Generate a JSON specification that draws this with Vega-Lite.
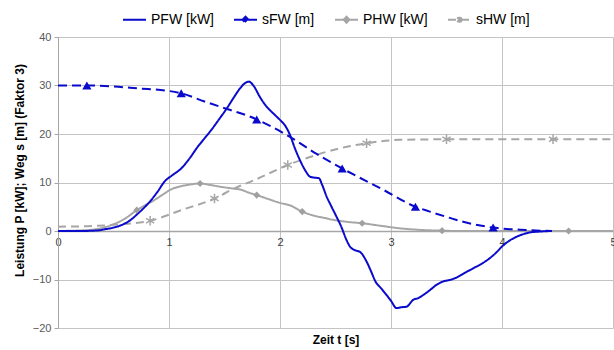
{
  "$schema": "https://vega.github.io/schema/vega-lite/v6.json",
  "width": 555,
  "height": 291,
  "autosize": {"type": "none"},
  "padding": {"left": 58, "top": 37, "right": 1, "bottom": 22},
  "background": "white",
  "config": {"font": "Liberation Sans", "view": {"stroke": null}},
  "datasets": {
    "lines": [
      {"series": "PHW [kW]", "t": 0, "v": 0}, {"series": "PHW [kW]", "t": 0.27, "v": 0.2}, {"series": "PHW [kW]", "t": 0.48, "v": 1.2}, {"series": "PHW [kW]", "t": 0.6, "v": 2.5}, {"series": "PHW [kW]", "t": 0.71, "v": 4.3}, {"series": "PHW [kW]", "t": 0.8, "v": 5.5}, {"series": "PHW [kW]", "t": 0.87, "v": 6.4}, {"series": "PHW [kW]", "t": 0.95, "v": 7.6}, {"series": "PHW [kW]", "t": 1.02, "v": 8.6}, {"series": "PHW [kW]", "t": 1.1, "v": 9.2}, {"series": "PHW [kW]", "t": 1.17, "v": 9.5}, {"series": "PHW [kW]", "t": 1.28, "v": 9.8}, {"series": "PHW [kW]", "t": 1.37, "v": 9.5}, {"series": "PHW [kW]", "t": 1.47, "v": 9.1}, {"series": "PHW [kW]", "t": 1.56, "v": 8.8}, {"series": "PHW [kW]", "t": 1.65, "v": 8.5}, {"series": "PHW [kW]", "t": 1.72, "v": 7.9}, {"series": "PHW [kW]", "t": 1.79, "v": 7.4}, {"series": "PHW [kW]", "t": 1.88, "v": 6.7}, {"series": "PHW [kW]", "t": 2.0, "v": 5.8}, {"series": "PHW [kW]", "t": 2.1, "v": 5.2}, {"series": "PHW [kW]", "t": 2.2, "v": 4.0}, {"series": "PHW [kW]", "t": 2.3, "v": 3.2}, {"series": "PHW [kW]", "t": 2.4, "v": 2.7}, {"series": "PHW [kW]", "t": 2.48, "v": 2.3}, {"series": "PHW [kW]", "t": 2.6, "v": 1.9}, {"series": "PHW [kW]", "t": 2.74, "v": 1.6}, {"series": "PHW [kW]", "t": 2.9, "v": 1.1}, {"series": "PHW [kW]", "t": 3.08, "v": 0.55}, {"series": "PHW [kW]", "t": 3.25, "v": 0.25}, {"series": "PHW [kW]", "t": 3.46, "v": 0.07}, {"series": "PHW [kW]", "t": 3.6, "v": 0}, {"series": "PHW [kW]", "t": 5, "v": 0},
      {"series": "sHW [m]", "t": 0, "v": 0.9}, {"series": "sHW [m]", "t": 0.27, "v": 1.0}, {"series": "sHW [m]", "t": 0.57, "v": 1.4}, {"series": "sHW [m]", "t": 0.83, "v": 2.1}, {"series": "sHW [m]", "t": 1.11, "v": 4.3}, {"series": "sHW [m]", "t": 1.41, "v": 6.7}, {"series": "sHW [m]", "t": 1.59, "v": 8.8}, {"series": "sHW [m]", "t": 1.77, "v": 10.5}, {"series": "sHW [m]", "t": 2.07, "v": 13.6}, {"series": "sHW [m]", "t": 2.33, "v": 15.7}, {"series": "sHW [m]", "t": 2.55, "v": 17.1}, {"series": "sHW [m]", "t": 2.78, "v": 18.1}, {"series": "sHW [m]", "t": 3.08, "v": 18.8}, {"series": "sHW [m]", "t": 3.5, "v": 18.9}, {"series": "sHW [m]", "t": 4.46, "v": 18.9}, {"series": "sHW [m]", "t": 5, "v": 18.9},
      {"series": "sFW [m]", "t": 0, "v": 30}, {"series": "sFW [m]", "t": 0.26, "v": 30}, {"series": "sFW [m]", "t": 0.5, "v": 29.8}, {"series": "sFW [m]", "t": 0.72, "v": 29.4}, {"series": "sFW [m]", "t": 0.99, "v": 28.9}, {"series": "sFW [m]", "t": 1.11, "v": 28.4}, {"series": "sFW [m]", "t": 1.32, "v": 26.7}, {"series": "sFW [m]", "t": 1.53, "v": 25.1}, {"series": "sFW [m]", "t": 1.74, "v": 23.5}, {"series": "sFW [m]", "t": 1.79, "v": 23.0}, {"series": "sFW [m]", "t": 2.09, "v": 19.4}, {"series": "sFW [m]", "t": 2.33, "v": 15.9}, {"series": "sFW [m]", "t": 2.56, "v": 12.9}, {"series": "sFW [m]", "t": 2.93, "v": 8.5}, {"series": "sFW [m]", "t": 3.22, "v": 5.0}, {"series": "sFW [m]", "t": 3.35, "v": 4.0}, {"series": "sFW [m]", "t": 3.53, "v": 2.7}, {"series": "sFW [m]", "t": 3.65, "v": 1.9}, {"series": "sFW [m]", "t": 3.92, "v": 0.7}, {"series": "sFW [m]", "t": 4.22, "v": 0.2}, {"series": "sFW [m]", "t": 4.45, "v": 0},
      {"series": "PFW [kW]", "t": 0, "v": 0}, {"series": "PFW [kW]", "t": 0.2, "v": 0}, {"series": "PFW [kW]", "t": 0.35, "v": 0.1}, {"series": "PFW [kW]", "t": 0.42, "v": 0.35}, {"series": "PFW [kW]", "t": 0.5, "v": 0.7}, {"series": "PFW [kW]", "t": 0.57, "v": 1.2}, {"series": "PFW [kW]", "t": 0.65, "v": 2.2}, {"series": "PFW [kW]", "t": 0.72, "v": 3.6}, {"series": "PFW [kW]", "t": 0.78, "v": 4.9}, {"series": "PFW [kW]", "t": 0.84, "v": 6.4}, {"series": "PFW [kW]", "t": 0.9, "v": 8.2}, {"series": "PFW [kW]", "t": 0.96, "v": 10.2}, {"series": "PFW [kW]", "t": 1.03, "v": 11.5}, {"series": "PFW [kW]", "t": 1.11, "v": 12.9}, {"series": "PFW [kW]", "t": 1.18, "v": 14.8}, {"series": "PFW [kW]", "t": 1.26, "v": 17.4}, {"series": "PFW [kW]", "t": 1.32, "v": 19.1}, {"series": "PFW [kW]", "t": 1.38, "v": 20.8}, {"series": "PFW [kW]", "t": 1.45, "v": 23.0}, {"series": "PFW [kW]", "t": 1.53, "v": 25.6}, {"series": "PFW [kW]", "t": 1.58, "v": 27.4}, {"series": "PFW [kW]", "t": 1.64, "v": 29.4}, {"series": "PFW [kW]", "t": 1.68, "v": 30.4}, {"series": "PFW [kW]", "t": 1.72, "v": 30.8}, {"series": "PFW [kW]", "t": 1.76, "v": 30.0}, {"series": "PFW [kW]", "t": 1.82, "v": 27.6}, {"series": "PFW [kW]", "t": 1.87, "v": 25.9}, {"series": "PFW [kW]", "t": 1.91, "v": 24.9}, {"series": "PFW [kW]", "t": 1.96, "v": 23.8}, {"series": "PFW [kW]", "t": 2.0, "v": 22.9}, {"series": "PFW [kW]", "t": 2.05, "v": 21.6}, {"series": "PFW [kW]", "t": 2.09, "v": 19.8}, {"series": "PFW [kW]", "t": 2.13, "v": 17.3}, {"series": "PFW [kW]", "t": 2.18, "v": 14.6}, {"series": "PFW [kW]", "t": 2.23, "v": 12.4}, {"series": "PFW [kW]", "t": 2.27, "v": 11.2}, {"series": "PFW [kW]", "t": 2.31, "v": 11.0}, {"series": "PFW [kW]", "t": 2.35, "v": 10.9}, {"series": "PFW [kW]", "t": 2.38, "v": 9.5}, {"series": "PFW [kW]", "t": 2.42, "v": 7.1}, {"series": "PFW [kW]", "t": 2.46, "v": 5.2}, {"series": "PFW [kW]", "t": 2.51, "v": 2.9}, {"series": "PFW [kW]", "t": 2.55, "v": 1.0}, {"series": "PFW [kW]", "t": 2.6, "v": -1.9}, {"series": "PFW [kW]", "t": 2.63, "v": -3.2}, {"series": "PFW [kW]", "t": 2.68, "v": -4.0}, {"series": "PFW [kW]", "t": 2.72, "v": -4.3}, {"series": "PFW [kW]", "t": 2.78, "v": -6.3}, {"series": "PFW [kW]", "t": 2.82, "v": -8.3}, {"series": "PFW [kW]", "t": 2.86, "v": -10.4}, {"series": "PFW [kW]", "t": 2.91, "v": -11.8}, {"series": "PFW [kW]", "t": 2.96, "v": -13.2}, {"series": "PFW [kW]", "t": 3.0, "v": -14.4}, {"series": "PFW [kW]", "t": 3.05, "v": -15.9}, {"series": "PFW [kW]", "t": 3.1, "v": -15.7}, {"series": "PFW [kW]", "t": 3.14, "v": -15.6}, {"series": "PFW [kW]", "t": 3.2, "v": -14.2}, {"series": "PFW [kW]", "t": 3.25, "v": -13.8}, {"series": "PFW [kW]", "t": 3.29, "v": -13.2}, {"series": "PFW [kW]", "t": 3.35, "v": -12.2}, {"series": "PFW [kW]", "t": 3.41, "v": -11.1}, {"series": "PFW [kW]", "t": 3.47, "v": -10.4}, {"series": "PFW [kW]", "t": 3.53, "v": -10.1}, {"series": "PFW [kW]", "t": 3.59, "v": -9.6}, {"series": "PFW [kW]", "t": 3.66, "v": -8.7}, {"series": "PFW [kW]", "t": 3.74, "v": -7.7}, {"series": "PFW [kW]", "t": 3.82, "v": -6.7}, {"series": "PFW [kW]", "t": 3.89, "v": -5.6}, {"series": "PFW [kW]", "t": 3.95, "v": -4.4}, {"series": "PFW [kW]", "t": 4.0, "v": -3.2}, {"series": "PFW [kW]", "t": 4.06, "v": -2.1}, {"series": "PFW [kW]", "t": 4.13, "v": -1.2}, {"series": "PFW [kW]", "t": 4.2, "v": -0.6}, {"series": "PFW [kW]", "t": 4.25, "v": -0.3}, {"series": "PFW [kW]", "t": 4.35, "v": -0.1}, {"series": "PFW [kW]", "t": 4.45, "v": 0}
    ],
    "markers": [
      {"series": "sFW [m]", "t": 0.26, "v": 30}, {"series": "sFW [m]", "t": 1.11, "v": 28.4}, {"series": "sFW [m]", "t": 1.79, "v": 23.0}, {"series": "sFW [m]", "t": 2.56, "v": 12.9}, {"series": "sFW [m]", "t": 3.22, "v": 5.0}, {"series": "sFW [m]", "t": 3.92, "v": 0.7},
      {"series": "PHW [kW]", "t": 0.71, "v": 4.3}, {"series": "PHW [kW]", "t": 1.28, "v": 9.8}, {"series": "PHW [kW]", "t": 1.79, "v": 7.4}, {"series": "PHW [kW]", "t": 2.2, "v": 4.0}, {"series": "PHW [kW]", "t": 2.74, "v": 1.6}, {"series": "PHW [kW]", "t": 3.46, "v": 0.07}, {"series": "PHW [kW]", "t": 4.6, "v": 0},
      {"series": "sHW [m]", "t": 0.83, "v": 2.1}, {"series": "sHW [m]", "t": 1.41, "v": 6.7}, {"series": "sHW [m]", "t": 2.07, "v": 13.6}, {"series": "sHW [m]", "t": 2.78, "v": 18.1}, {"series": "sHW [m]", "t": 3.5, "v": 18.9}, {"series": "sHW [m]", "t": 4.46, "v": 18.9}
    ]
  },
  "encoding": {
    "x": {
      "field": "t", "type": "quantitative",
      "scale": {"domain": [0, 5], "nice": false},
      "axis": {
        "values": [0, 1, 2, 3, 4, 5], "offset": -97, "grid": true, "gridColor": "#c4c4c4", "gridWidth": 1,
        "domain": true, "domainColor": "#a6a6a6", "domainWidth": 1.5, "ticks": false,
        "labelPadding": 5, "labelColor": "#404040", "labelFontSize": 11, "labelFlush": false, "labelAngle": 0,
        "title": "Zeit t [s]", "titleFontWeight": "bold", "titleFontSize": 12, "titleColor": "black", "titleY": 103
      }
    },
    "y": {
      "field": "v", "type": "quantitative",
      "scale": {"domain": [-20, 40], "nice": false},
      "axis": {
        "values": [-20, -10, 0, 10, 20, 30, 40], "grid": true, "gridColor": "#c4c4c4", "gridWidth": 1,
        "domainColor": "#a6a6a6", "tickColor": "#a6a6a6", "tickSize": 4, "labelPadding": 3,
        "labelColor": "#595959", "labelFontSize": 11,
        "title": "Leistung P [kW]; Weg s [m] (Faktor 3)", "titleFontWeight": "bold", "titleFontSize": 12,
        "titleColor": "black", "titleX": -32, "titleY": 133
      }
    }
  },
  "layer": [
    {
      "data": {"name": "lines"},
      "mark": {"type": "line", "interpolate": "monotone"},
      "encoding": {
        "color": {
          "field": "series", "type": "nominal",
          "scale": {"domain": ["PFW [kW]", "sFW [m]", "PHW [kW]", "sHW [m]"], "range": ["#0a0acc", "#0a0acc", "#a6a6a6", "#a6a6a6"]},
          "legend": {
            "orient": "none", "legendX": 64, "legendY": -30, "direction": "horizontal", "title": null,
            "symbolType": "stroke", "symbolSize": 529, "symbolStrokeWidth": 2, "labelFontSize": 14, "labelColor": "black",
            "labelOffset": 4, "columnPadding": 16,
            "encode": {
              "symbols": {"update": {
                "shape": {"signal": "datum.value === 'PFW [kW]' ? 'M-1,0L1,0' : datum.value === 'sHW [m]' ? 'M-1,0L1,0M-0.2,-0.2L0.2,0.2M-0.2,0.2L0.2,-0.2M0,-0.26L0,0.26' : 'M-1,0L1,0M-0.26,0L0,-0.26L0.26,0L0,0.26Z'"},
                "fill": {"signal": "datum.value === 'sFW [m]' ? '#0a0acc' : datum.value === 'PHW [kW]' ? '#a6a6a6' : 'transparent'"}
              }}
            }
          }
        },
        "strokeDash": {
          "field": "series", "type": "nominal",
          "scale": {"domain": ["PFW [kW]", "sFW [m]", "PHW [kW]", "sHW [m]"], "range": [[1, 0], [9, 5], [1, 0], [8, 5]]}
        },
        "strokeWidth": {
          "field": "series", "type": "nominal",
          "scale": {"domain": ["PFW [kW]", "sFW [m]", "PHW [kW]", "sHW [m]"], "range": [2, 2, 1.6, 1.8]},
          "legend": null
        }
      }
    },
    {
      "data": {"name": "markers"},
      "transform": [{"filter": "datum.series === 'PHW [kW]'"}],
      "mark": {"type": "point", "shape": "diamond", "filled": true, "color": "#a0a0a0", "size": 50, "opacity": 1}
    },
    {
      "data": {"name": "markers"},
      "transform": [{"filter": "datum.series === 'sHW [m]'"}],
      "mark": {"type": "point", "shape": "M0,-1L0,1M-0.87,-0.5L0.87,0.5M-0.87,0.5L0.87,-0.5", "filled": false, "color": "#a6a6a6", "strokeWidth": 1.5, "size": 90, "opacity": 1}
    },
    {
      "data": {"name": "markers"},
      "transform": [{"filter": "datum.series === 'sFW [m]'"}],
      "mark": {"type": "point", "shape": "triangle-up", "filled": true, "color": "#0a0acc", "size": 85, "opacity": 1}
    }
  ]
}
